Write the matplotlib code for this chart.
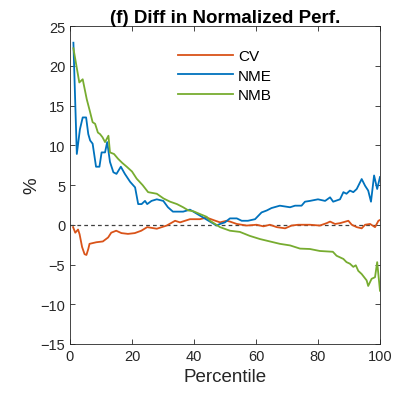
import matplotlib
matplotlib.use('Agg')
import matplotlib.pyplot as plt

plt.rcParams['font.family'] = ['Liberation Sans', 'DejaVu Sans']

# valeurs (percentile, %)
cv_x = [1, 1.7, 2.6, 3.1, 3.9, 4.7, 5.3, 5.9, 6.3, 8.5, 10.6, 12.3, 13.3, 14.9, 16.6, 18.7,
        20.9, 23, 24.9, 28, 31.2, 33.9, 35.5, 38.7, 41.9, 44.1, 46.2, 48.4, 50.5, 51.6, 53.8,
        57, 60.2, 62.4, 64.5, 66.7, 69.4, 71.5, 73.6, 77.4, 80.6, 82.8, 83.9, 85.5, 87.1,
        89.8, 90.9, 92.5, 94.1, 95.2, 96.8, 98.4, 99.5, 100]
cv_y = [-0.3, -1.0, -0.6, -1.2, -2.8, -3.7, -3.8, -3.05, -2.4, -2.2, -2.1, -1.6, -1.0, -0.75,
        -1.05, -1.15, -1.05, -0.75, -0.3, -0.5, -0.1, 0.5, 0.3, 0.7, 0.7, 0.9, 0.6, 0.3, 0.5,
        0.4, 0.1, -0.1, 0.0, -0.2, 0.0, -0.3, -0.45, -0.1, 0.0, 0.0, -0.1, 0.2, 0.4, 0.1, 0.2,
        0.5, 0.0, -0.3, -0.45, 0.0, 0.1, -0.3, 0.5, 0.6]

nme_x = [1.1, 2.2, 3.2, 4.1, 5.2, 5.9, 6.5, 7.3, 8.4, 9.5, 10.2, 11.3, 12.0, 12.9, 14.0, 15.0,
         16.4, 17.7, 19.4, 21.0, 22.0, 23.1, 24.2, 24.9, 26.3, 28.0, 30.1, 31.6, 33.2, 36.5,
         38.7, 43.0, 47.3, 48.4, 50, 51.6, 53.8, 55.4, 57.4, 59.7, 61.8, 63.5, 65, 67.7, 71,
         72.6, 74.7, 75.8, 77.4, 80, 82.3, 83.9, 84.9, 87.1, 88.2, 89.2, 90.3, 91.4, 92.5,
         94.1, 95.2, 96.2, 97.1, 98.1, 99.1, 100]
nme_y = [22.9, 8.9, 12.0, 13.5, 13.5, 11.4, 10.6, 10.2, 7.3, 7.3, 9.1, 9.1, 10.4, 7.9, 6.6, 6.4,
         7.3, 6.4, 5.4, 4.7, 2.6, 2.6, 3.0, 2.6, 3.0, 3.2, 3.0, 2.2, 1.65, 1.65, 1.9, 0.9, -0.1,
         0.1, 0.3, 0.8, 0.8, 0.5, 0.5, 0.7, 1.55, 1.8, 2.1, 2.4, 2.2, 2.4, 2.4, 2.9, 3.0, 3.2,
         3.0, 3.45, 2.9, 3.2, 4.1, 3.9, 4.3, 4.1, 4.5, 5.75, 4.9, 4.3, 2.9, 6.2, 4.5, 6.0]

nmb_x = [1.1, 3.0, 4.1, 5.4, 6.4, 7.3, 8.1, 9.0, 9.7, 10.5, 11.3, 12.4, 12.9, 14.2, 15.5, 16.8,
         18.3, 20.0, 21.5, 23.4, 25.2, 28, 30.2, 32.3, 34.5, 36.5, 38.2, 39.8, 41.9, 44.1, 45.2,
         48.4, 51.6, 54.8, 58, 61.3, 64.5, 67.7, 71, 74.2, 77.4, 80.6, 84.8, 86.0, 87.1, 88.2,
         89.2, 90.3, 91.4, 92.2, 93, 94.1, 95.7, 96.2, 97.3, 98.4, 99.1, 100]
nmb_y = [22.2, 17.9, 18.3, 15.8, 14.3, 12.9, 12.7, 11.6, 11.4, 11.0, 10.4, 11.2, 9.1, 8.9, 8.3,
         7.8, 7.3, 6.7, 5.8, 5.0, 4.1, 3.9, 3.3, 2.9, 2.6, 2.2, 1.8, 1.7, 1.35, 1.0, 0.5,
         -0.3, -0.75, -0.9, -1.4, -1.8, -2.1, -2.4, -2.6, -3.0, -3.05, -3.3, -3.4, -3.9, -4.1,
         -4.3, -4.7, -4.9, -5.3, -5.1, -5.8, -6.2, -7.0, -7.7, -6.8, -6.6, -4.7, -8.3]

gris = '#262626'

fig = plt.figure(figsize=(4.06, 4.02), dpi=100)
ax = fig.add_axes([0.1724, 0.1418, 0.7635, 0.791])

ax.axhline(0, color='#404040', linestyle='--', linewidth=0.9, dashes=(3, 2.5))
ax.plot(cv_x, cv_y, color='#D95319', linewidth=1.3, label='CV')
ax.plot(nme_x, nme_y, color='#0072BD', linewidth=1.3, label='NME')
ax.plot(nmb_x, nmb_y, color='#77AC30', linewidth=1.3, label='NMB')

ax.set_xlim(0, 100)
ax.set_ylim(-15, 25)
ax.set_xticks(range(0, 101, 20))
ax.set_yticks(range(-15, 26, 5))
ax.tick_params(direction='in', top=True, right=True, labelsize=10.5, colors=gris,
               length=3.5, width=0.6)
for s in ax.spines.values():
    s.set_color(gris)
    s.set_linewidth(0.6)

ax.set_title('(f) Diff in Normalized Perf.', fontsize=13.5, fontweight='bold', pad=3)
ax.set_xlabel('Percentile', fontsize=13.5, color=gris, labelpad=4)
ax.set_ylabel('%', fontsize=13.5, color=gris, labelpad=0)

leg = ax.legend(loc='upper left', bbox_to_anchor=(0.305, 0.97), frameon=False, fontsize=11,
                handlelength=3.6, handletextpad=0.3, labelspacing=0.35)

plt.savefig('out.png', dpi=100)
